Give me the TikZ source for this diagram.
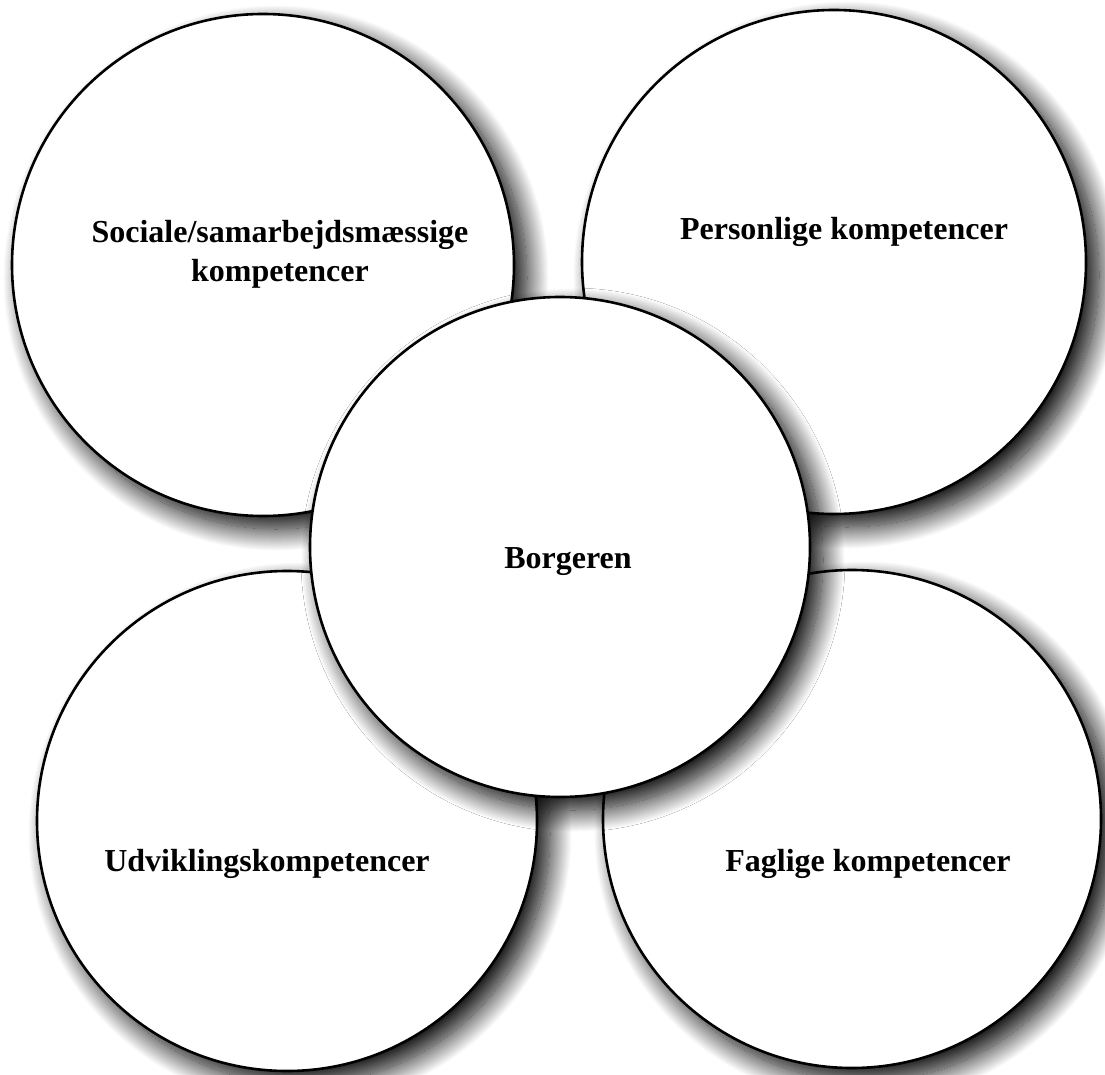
\documentclass[tikz,border=0pt]{standalone}
\usepackage{fontspec}
\setmainfont{Liberation Serif}
\usetikzlibrary{shadows.blur}
\tikzset{
  ring/.style={circle, draw, line width=2.6pt, fill=white, inner sep=0pt, minimum size=#1,
    blur shadow={shadow xshift=13pt, shadow yshift=-13pt, shadow blur radius=22pt,
      shadow blur steps=30, shadow opacity=100}},
  word/.style={font=\fontsize{32}{39}\selectfont\bfseries, align=center, inner sep=0pt}
}
\begin{document}
\begin{tikzpicture}[x=1pt,y=-1pt]
  \useasboundingbox (0,0) rectangle (1105,1075);
  % outer circles
  \node[ring=502pt] (social) at (263,265) {};
  \node[ring=504pt] (personal) at (834,262) {};
  \node[ring=500pt] (develop) at (287,821) {};
  \node[ring=498pt] (subject) at (852,819) {};
  % centre
  \node[ring=500pt] (citizen) at (560,547) {};
  % labels
  \node[word] (socialtext) at (280,254) {Sociale/samarbejdsmæssige\\kompetencer};
  \node[word, anchor=base] (personaltext) at (844,240) {Personlige kompetencer};
  \node[word, anchor=base] (developtext) at (267,871) {Udviklingskompetencer};
  \node[word, anchor=base] (subjecttext) at (868,871) {Faglige kompetencer};
  \node[word, anchor=base] (citizentext) at (568,568) {Borgeren};
\end{tikzpicture}
\end{document}
